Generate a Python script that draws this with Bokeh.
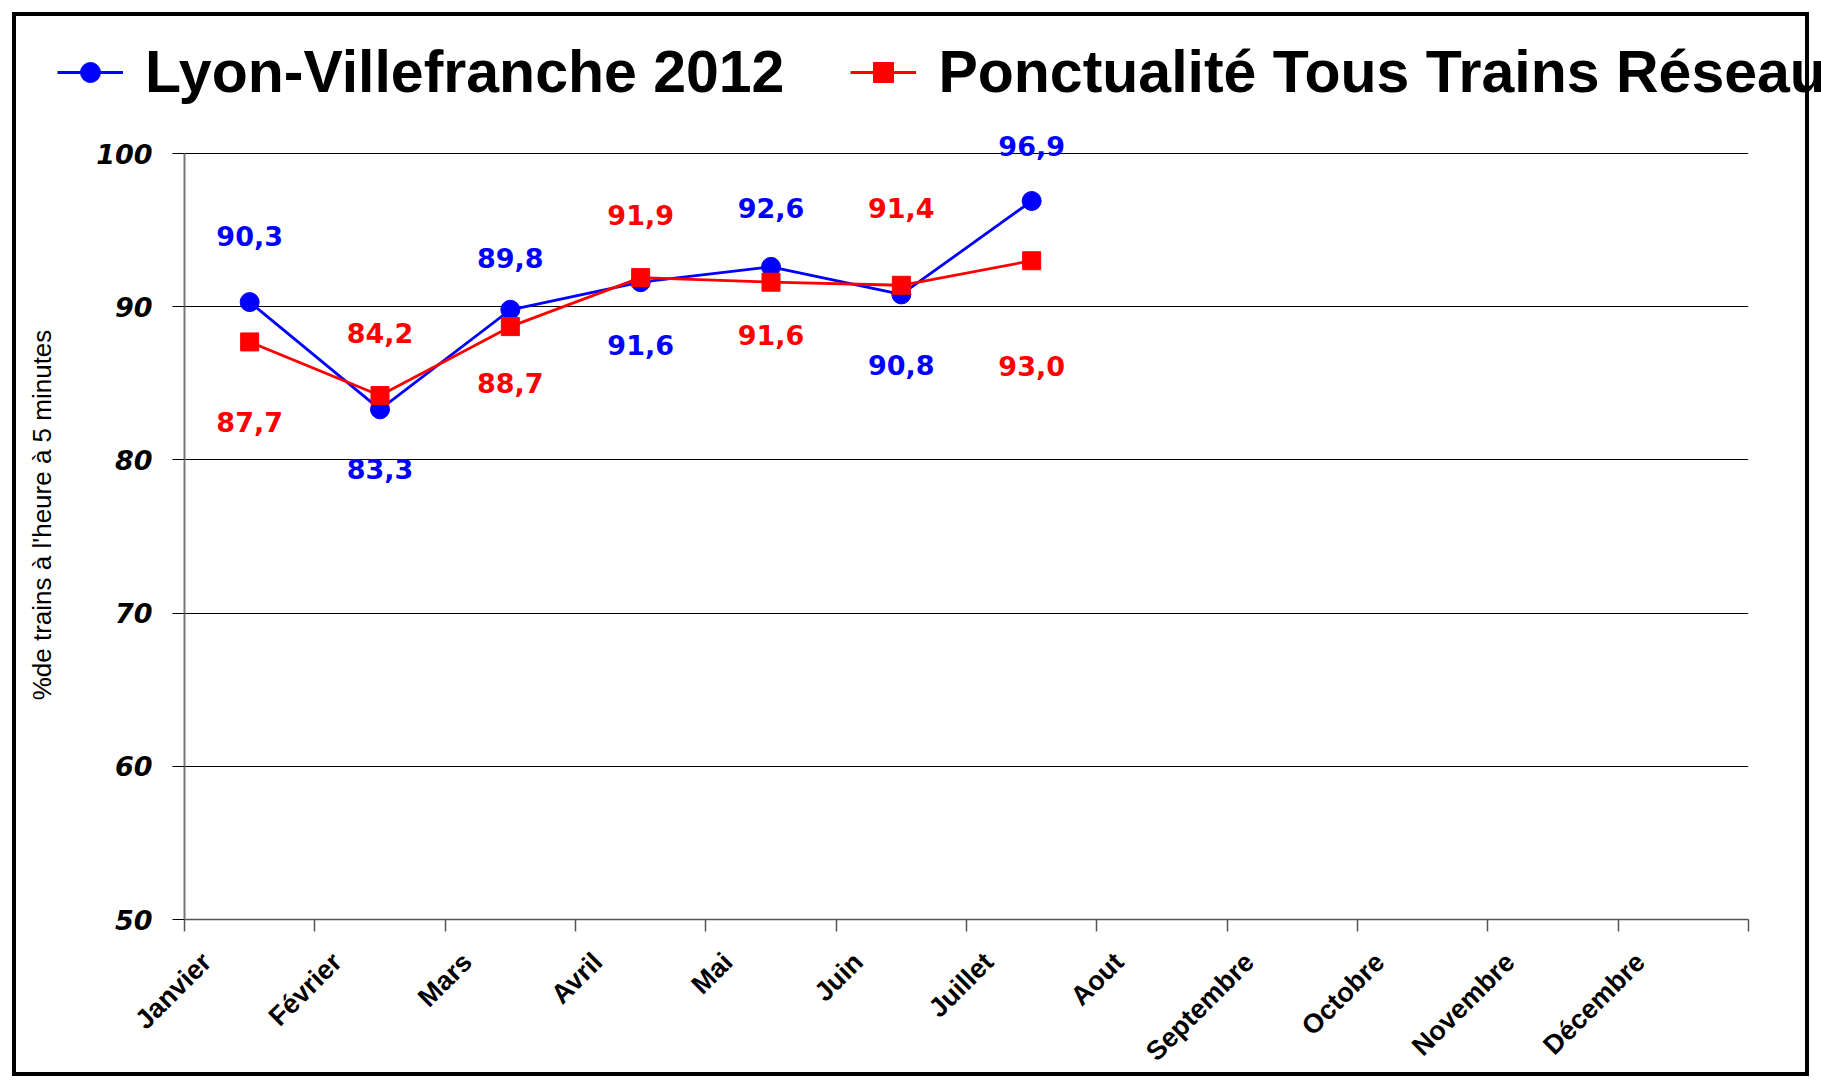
import math
from bokeh.plotting import figure
from bokeh.layouts import column
from bokeh.models import (ColumnDataSource, Range1d, FixedTicker, Legend, LegendItem, LabelSet)
from bokeh.core.properties import value
from bokeh.embed import file_html
from bokeh.resources import INLINE

# ---------------- data ----------------
months = ["Janvier", "Février", "Mars", "Avril", "Mai", "Juin", "Juillet", "Aout",
          "Septembre", "Octobre", "Novembre", "Décembre"]
lyon_villefranche = [90.3, 83.3, 89.8, 91.6, 92.6, 90.8, 96.9]
ponctualite_reseau = [87.7, 84.2, 88.7, 91.9, 91.6, 91.4, 93.0]
y_ticks = [50, 60, 70, 80, 90, 100]
series_names = ["Lyon-Villefranche 2012", "Ponctualité Tous Trains Réseau"]

# label offsets (screen px, + = above the point)
blue_label_offsets = [66, -60, 52, -63, 59, -71, 55]
red_label_offsets = [-80, 63, -56, 63, -53, 77, -105]

BLUE = "#0000FF"
RED = "#FF0000"

# ---------------- layout (pixels) ----------------
W, H = 1821, 1088
TOP_H = 110                     # legend strip
MAIN_H = H - TOP_H
FRAME_L, FRAME_R = 184, 1748
Y100_PX, Y50_PX = 153 - TOP_H, 919 - TOP_H
px_per_unit = (Y50_PX - Y100_PX) / (y_ticks[-1] - y_ticks[0])
y_end = y_ticks[-1] + Y100_PX / px_per_unit
LABEL_SHIFT = 0.17              # x tick labels sit a bit right of the boundary tick

xs_blue = [i + 0.5 for i in range(len(lyon_villefranche))]
xs_red = [i + 0.5 for i in range(len(ponctualite_reseau))]

def fmt(v):
    return f"{v:.1f}".replace(".", ",")

src_b = ColumnDataSource(dict(x=xs_blue, y=lyon_villefranche,
                              t=[fmt(v) for v in lyon_villefranche], off=blue_label_offsets))
src_r = ColumnDataSource(dict(x=xs_red, y=ponctualite_reseau,
                              t=[fmt(v) for v in ponctualite_reseau], off=red_label_offsets))

def series(fig):
    bl = fig.line("x", "y", source=src_b, line_color=BLUE, line_width=2.8)
    bm = fig.scatter("x", "y", source=src_b, marker="circle", size=19,
                     fill_color=BLUE, line_color=BLUE)
    rl = fig.line("x", "y", source=src_r, line_color=RED, line_width=2.8)
    rm = fig.scatter("x", "y", source=src_r, marker="square", size=18,
                     fill_color=RED, line_color=RED)
    return bl, bm, rl, rm

# ---------------- legend strip (series fall outside its ranges) ----------------
top = figure(width=W, height=TOP_H, x_range=Range1d(0, 12), y_range=Range1d(0, 1),
             x_axis_type=None, y_axis_type=None, output_backend="svg", toolbar_location=None,
             min_border=0, min_border_left=0, min_border_right=0, min_border_top=0,
             min_border_bottom=0)
top.outline_line_color = None
top.background_fill_color = None
top.border_fill_color = None
if "frame_align" in top.properties():
    top.frame_align = False
tl_b, tm_b, tl_r, tm_r = series(top)
legend = Legend(items=[LegendItem(label=series_names[0], renderers=[tl_b, tm_b]),
                       LegendItem(label=series_names[1], renderers=[tl_r, tm_r])],
                location=(57, 4), orientation="horizontal",
                label_text_font="Liberation Sans", label_text_font_style="bold",
                label_text_font_size="59px", label_text_color="black", label_standoff=22,
                glyph_width=66, glyph_height=50, spacing=66,
                padding=0, margin=0, border_line_color=None, background_fill_alpha=0)
top.add_layout(legend)

# ---------------- main chart ----------------
p = figure(width=W, height=MAIN_H, x_range=Range1d(0, 12), y_range=Range1d(y_ticks[0], y_end),
           output_backend="svg", toolbar_location=None,
           min_border_left=FRAME_L, min_border_right=W - FRAME_R,
           min_border_top=0, min_border_bottom=MAIN_H - Y50_PX)
p.outline_line_color = None
p.background_fill_color = None
p.border_fill_color = None
if "frame_align" in p.properties():
    p.frame_align = False

series(p)

for src, col in ((src_b, BLUE), (src_r, RED)):
    p.add_layout(LabelSet(x="x", y="y", text="t", y_offset="off", source=src,
                          text_align="center", text_baseline="middle",
                          text_color=col, text_font=value("DejaVu Sans"),
                          text_font_style="bold", text_font_size="27px"))

# x axis: boundary tick marks drawn as minor ticks, labels on shifted major ticks
label_pos = [round(i + LABEL_SHIFT, 2) for i in range(12)]
p.xaxis.ticker = FixedTicker(ticks=label_pos, minor_ticks=list(range(13)))
p.xaxis.major_label_overrides = {pos: months[i] for i, pos in enumerate(label_pos)}
p.xaxis.major_label_orientation = math.pi / 4
p.xaxis.major_label_text_font = "Liberation Sans"
p.xaxis.major_label_text_font_style = "bold"
p.xaxis.major_label_text_font_size = "27px"
p.xaxis.major_label_text_color = "black"
p.xaxis.major_label_standoff = 26
p.xaxis.major_tick_out = 0
p.xaxis.major_tick_in = 0
p.xaxis.minor_tick_out = 12
p.xaxis.minor_tick_in = 0
p.xaxis.minor_tick_line_color = "#555555"
p.xaxis.minor_tick_line_width = 1.5
p.xaxis.axis_line_color = "#555555"
p.xaxis.axis_line_width = 1.5

p.yaxis.ticker = FixedTicker(ticks=y_ticks)
p.yaxis.bounds = (y_ticks[0], y_ticks[-1])
p.yaxis.major_label_text_font = "DejaVu Sans"
p.yaxis.major_label_text_font_style = "bold italic"
p.yaxis.major_label_text_font_size = "27px"
p.yaxis.major_label_text_color = "black"
p.yaxis.major_label_standoff = 20
p.yaxis.major_tick_out = 12
p.yaxis.major_tick_in = 0
p.yaxis.minor_tick_out = 0
p.yaxis.minor_tick_in = 0
p.yaxis.major_tick_line_color = "black"
p.yaxis.axis_line_color = "#777777"
p.yaxis.axis_line_width = 2
p.yaxis.axis_label = "%de trains à l'heure à 5 minutes"
p.yaxis.axis_label_text_font = "Liberation Sans"
p.yaxis.axis_label_text_font_style = "normal"
p.yaxis.axis_label_text_font_size = "26px"
p.yaxis.axis_label_text_color = "black"
p.yaxis.axis_label_standoff = 36

p.xgrid.grid_line_color = None
p.ygrid.ticker = FixedTicker(ticks=y_ticks)
p.ygrid.grid_line_color = "black"
p.ygrid.grid_line_width = 1

layout = column(top, p, spacing=0,
                styles={"box-shadow": "inset 0 0 0 12px white, inset 0 0 0 16px black",
                        "background": "white"})

open("out.html", "w").write(file_html(layout, INLINE))
